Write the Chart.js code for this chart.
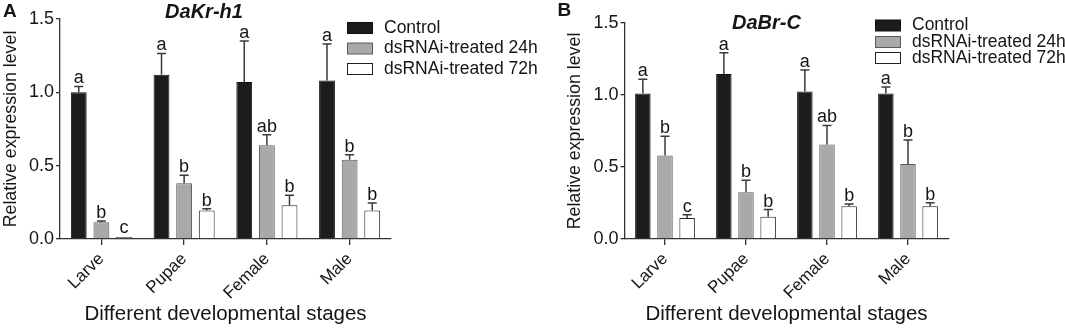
<!DOCTYPE html>
<html>
<head>
<meta charset="utf-8">
<script src="https://cdn.jsdelivr.net/npm/chart.js@4.4.1/dist/chart.umd.min.js"></script>
<style>
  body { margin: 0; background: #fff; }
  .panel { position: absolute; top: 0; }
</style>
</head>
<body>
<div class="panel" style="left:0"><canvas id="chartA" width="560" height="330"></canvas></div>
<div class="panel" style="left:535px"><canvas id="chartB" width="530" height="330"></canvas></div>
<script>
// categories and tick labels
const stages = ['Larve', 'Pupae', 'Female', 'Male'];
const seriesNames = ['Control', 'dsRNAi-treated 24h', 'dsRNAi-treated 72h'];
const yTickValues = [0, 0.5, 1.0, 1.5];

// panel A - DaKr-h1
const krControl = [1.00, 1.12, 1.07, 1.08];
const krControlErr = [0.04, 0.145, 0.28, 0.25];
const kr24h = [0.115, 0.38, 0.64, 0.54];
const kr24hErr = [0.008, 0.055, 0.07, 0.035];
const kr72h = [0.005, 0.195, 0.23, 0.195];
const kr72hErr = [0, 0.012, 0.068, 0.05];
const krLetters = [['a', 'a', 'a', 'a'], ['b', 'b', 'ab', 'b'], ['c', 'b', 'b', 'b']];

// panel B - DaBr-C
const brControl = [1.01, 1.145, 1.025, 1.01];
const brControlErr = [0.10, 0.148, 0.148, 0.046];
const br24h = [0.58, 0.325, 0.657, 0.52];
const br24hErr = [0.134, 0.083, 0.132, 0.167];
const br72h = [0.146, 0.155, 0.227, 0.227];
const br72hErr = [0.023, 0.049, 0.016, 0.025];
const brLetters = [['a', 'a', 'a', 'a'], ['b', 'b', 'ab', 'b'], ['c', 'b', 'b', 'b']];

const FONT = '"Liberation Sans", Arial, sans-serif';
const TEXT = '#151515';
const AXIS = '#333';
const fills = ['#1c1c1c', '#a9a9a9', '#ffffff'];
const borders = ['#111', '#5a5a5a', '#222'];

// error bars, letters, legend, titles
const extrasPlugin = {
  id: 'extras',
  afterDatasetsDraw(chart, args, opts) {
    const ctx = chart.ctx;
    const yScale = chart.scales.y;
    ctx.save();
    chart.data.datasets.forEach((ds, i) => {
      const meta = chart.getDatasetMeta(i);
      meta.data.forEach((bar, j) => {
        const top = yScale.getPixelForValue(ds.data[j] + ds.errors[j]);
        ctx.strokeStyle = '#3a3a3a';
        ctx.lineWidth = 1.5;
        if (ds.errors[j] > 0) {
          ctx.beginPath();
          ctx.moveTo(bar.x, bar.y);
          ctx.lineTo(bar.x, top);
          ctx.moveTo(bar.x - 4.5, top);
          ctx.lineTo(bar.x + 4.5, top);
          ctx.stroke();
        }
        ctx.fillStyle = TEXT;
        ctx.font = '18px ' + FONT;
        ctx.textAlign = 'center';
        ctx.textBaseline = 'alphabetic';
        ctx.fillText(ds.letters[j], bar.x, Math.min(top, bar.y - 1) - 3);
      });
    });
    ctx.restore();
  },
  afterDraw(chart, args, opts) {
    const ctx = chart.ctx;
    ctx.save();
    ctx.fillStyle = TEXT;
    ctx.textBaseline = 'middle';
    ctx.textAlign = 'left';
    ctx.font = 'bold 19px ' + FONT;
    ctx.fillText(opts.panel, opts.panelX, opts.panelY);
    ctx.textAlign = 'center';
    ctx.font = 'italic bold 20px ' + FONT;
    ctx.fillText(opts.gene, opts.geneX, opts.geneY);
    // legend
    ctx.textAlign = 'left';
    ctx.font = '17.5px ' + FONT;
    chart.data.datasets.forEach((ds, i) => {
      const y = opts.legendRows[i];
      ctx.fillStyle = ds.backgroundColor;
      ctx.fillRect(opts.legendX, y - 5.5, 25, 11);
      ctx.strokeStyle = ds.borderColor;
      ctx.lineWidth = 1;
      ctx.strokeRect(opts.legendX + 0.5, y - 5.5, 25, 11);
      ctx.fillStyle = TEXT;
      ctx.fillText(ds.label, opts.legendX + 37, y);
    });
    ctx.restore();
  }
};

function makeChart(id, values, errors, letters, layout) {
  const datasets = values.map((v, i) => ({
    label: seriesNames[i],
    data: v,
    errors: errors[i],
    letters: letters[i],
    backgroundColor: fills[i],
    borderColor: borders[i],
    borderWidth: 1,
    minBarLength: 2,
    categoryPercentage: 0.82,
    barPercentage: 0.7
  }));
  return new Chart(document.getElementById(id), {
    type: 'bar',
    data: { labels: stages, datasets: datasets },
    plugins: [extrasPlugin],
    options: {
      responsive: false,
      animation: false,
      devicePixelRatio: 1,
      layout: { padding: layout.padding },
      plugins: {
        legend: { display: false },
        tooltip: { enabled: false },
        extras: layout.extras
      },
      scales: {
        x: {
          grid: { drawOnChartArea: false, offset: false, tickLength: 6, color: AXIS, lineWidth: 1.3 },
          border: { color: AXIS, width: 1.3 },
          ticks: { color: TEXT, font: { family: FONT, size: 17 }, minRotation: 45, maxRotation: 45, padding: 4 },
          title: { display: true, text: 'Different developmental stages', color: TEXT, font: { family: FONT, size: 20.5 }, padding: { bottom: 3 } },
          afterFit(scale) { scale.height = 91; }
        },
        y: {
          min: 0,
          max: 1.5,
          afterBuildTicks(scale) { scale.ticks = yTickValues.map(v => ({ value: v })); },
          grid: { drawOnChartArea: false, tickLength: 4, color: AXIS, lineWidth: 1.3 },
          border: { color: AXIS, width: 1.3 },
          ticks: { color: TEXT, font: { family: FONT, size: 18 }, padding: 2, callback: v => v.toFixed(1) },
          title: { display: true, text: 'Relative expression level', color: TEXT, font: { family: FONT, size: 17.8 }, padding: 0 },
          afterFit(scale) { scale.width = 60; }
        }
      }
    }
  });
}

makeChart('chartA',
  [krControl, kr24h, kr72h],
  [krControlErr, kr24hErr, kr72hErr],
  krLetters,
  {
    padding: { left: 0, right: 169, top: 19, bottom: 0 },
    extras: { panel: 'A', panelX: 3, panelY: 12, gene: 'DaKr-h1', geneX: 204, geneY: 12,
              legendX: 347, legendRows: [28, 48.5, 69] }
  });

makeChart('chartB',
  [brControl, br24h, br72h],
  [brControlErr, br24hErr, br72hErr],
  brLetters,
  {
    padding: { left: 29.5, right: 116.5, top: 23, bottom: 0 },
    extras: { panel: 'B', panelX: 22.5, panelY: 11, gene: 'DaBr-C', geneX: 231.5, geneY: 23,
              legendX: 340, legendRows: [25.5, 42, 58] }
  });
</script>
</body>
</html>
